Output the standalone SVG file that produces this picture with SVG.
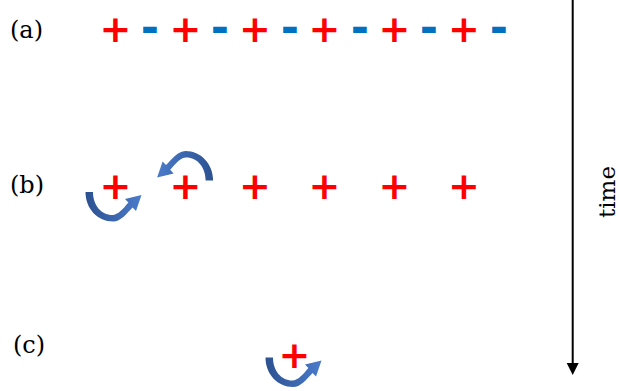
<svg xmlns="http://www.w3.org/2000/svg" width="619" height="391" viewBox="0 0 619 391">
<style>
.lbl{font-family:"DejaVu Serif","Liberation Serif",serif;font-size:24px;fill:#000}
.tm{font-family:"DejaVu Serif","Liberation Serif",serif;font-size:23px;fill:#000}
.p{font-family:"DejaVu Sans","Liberation Sans",sans-serif;font-weight:bold;font-size:38px;fill:#FF0000;text-anchor:middle}
.m{font-family:"DejaVu Sans","Liberation Sans",sans-serif;font-weight:bold;font-size:44px;fill:#0070C0;text-anchor:middle}
</style>
<defs>
<linearGradient id="g" x1="0" y1="0" x2="1" y2="0">
<stop offset="0" stop-color="#2C5190"/>
<stop offset="1" stop-color="#4A7BCB"/>
</linearGradient>
<path id="carrow" fill="url(#g)" d="M85.5,192 C85.5,209 98,221.5 113,221.5 C121,221.5 127,213 132.6,207.4 L136,211 L141.5,195 L125,199 L128.4,202.6 C123,209 118,215 112.5,215 C101,215 93,205 93,192 Z"/>
</defs>
<g id="label-a"><text class="lbl" x="10" y="38">(a)</text></g>
<g id="label-b"><text class="lbl" x="10" y="193">(b)</text></g>
<g id="label-c"><text class="lbl" x="13" y="353">(c)</text></g>
<g id="row-a">
<text class="p" x="115.5" y="42">+</text>
<text class="m" x="150" y="43">-</text>
<text class="p" x="185.5" y="42">+</text>
<text class="m" x="220" y="43">-</text>
<text class="p" x="255" y="42">+</text>
<text class="m" x="290" y="43">-</text>
<text class="p" x="324.5" y="42">+</text>
<text class="m" x="360" y="43">-</text>
<text class="p" x="394.5" y="42">+</text>
<text class="m" x="429" y="43">-</text>
<text class="p" x="464" y="42">+</text>
<text class="m" x="499" y="43">-</text>
</g>
<g id="row-b">
<text class="p" x="115.5" y="199">+</text>
<text class="p" x="185.5" y="199">+</text>
<text class="p" x="255" y="199">+</text>
<text class="p" x="324.5" y="199">+</text>
<text class="p" x="394.5" y="199">+</text>
<text class="p" x="464" y="199">+</text>
</g>
<g id="row-c">
<text class="p" x="294.5" y="368">+</text>
</g>
<g id="connectors">
<use href="#carrow"/>
<use href="#carrow" transform="rotate(180 149.3 186.2)"/>
<use href="#carrow" transform="translate(180 165.5)"/>
</g>
<g id="time-axis">
<line x1="572.7" y1="0" x2="572.7" y2="364" stroke="#000" stroke-width="2"/>
<polygon points="566.7,363 578.7,363 572.7,375" fill="#000"/>
<text class="tm" transform="translate(615 192) rotate(-90)" text-anchor="middle">time</text>
</g>
</svg>
